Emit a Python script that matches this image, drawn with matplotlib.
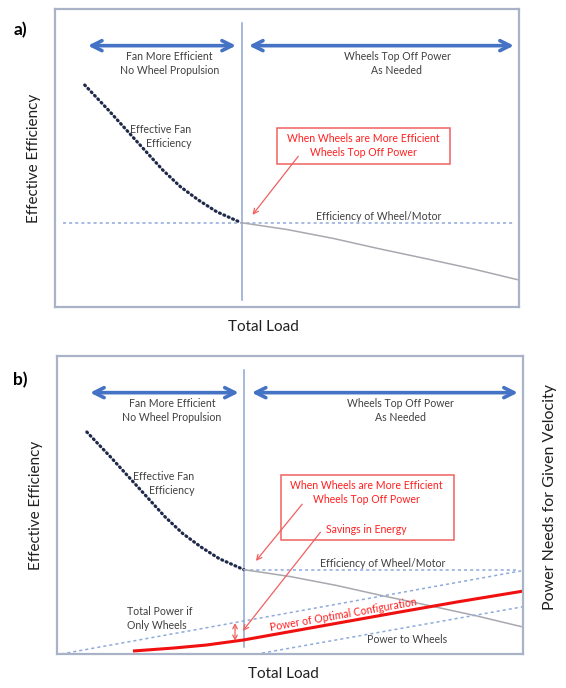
import matplotlib
matplotlib.use("Agg")
from matplotlib import pyplot as plt
from matplotlib.patches import Rectangle

plt.rcParams['font.family'] = ['Lato', 'DejaVu Sans']

# fan efficiency curve (dotted), shared by both panels
fan_x = [6.4, 11.5, 15.4, 19.3, 23.2, 27.0, 30.9, 34.8, 40.1]
fan_y = [74.5, 66.1, 59.4, 52.7, 46.0, 40.4, 35.9, 32.0, 28.3]

# wheel/motor efficiency after the crossover (solid gray)
wheel_x = [40.1, 50, 60, 70, 80, 90, 99.6]
wheel_y = [28.3, 26.0, 23.0, 19.5, 16.2, 12.8, 9.2]

crossover_x = 40.2
motor_eff = 28.3

# panel b power lines
only_wheels_x = [0.9, 99.6]
only_wheels_y = [0.0, 27.9]
to_wheels_x = [44.0, 99.8]
to_wheels_y = [0.3, 15.8]
optimal_x = [16.3, 25, 32, 40, 50, 60, 73.6, 86, 100]
optimal_y = [1.0, 2.0, 3.0, 4.7, 7.5, 10.3, 14.1, 17.5, 21.1]

W, H = 566, 688
fig = plt.figure(figsize=(W / 100, H / 100), dpi=100)

TXT = '#404040'
BLUE = '#4472C4'
LBLUE = '#8FAADC'
RED = '#FF2020'
FS = 7.6


def frame(ax):
    ax.set_xlim(0, 100)
    ax.set_ylim(0, 100)
    ax.set_xticks([])
    ax.set_yticks([])
    for s in ax.spines.values():
        s.set_color('#A9B2C6')
        s.set_linewidth(1.6)


def common(ax, full_dash, xlabel_x):
    frame(ax)
    ax.plot([crossover_x, crossover_x], [2.3, 95.2], color='#8EA4D2', lw=1.1)
    ax.annotate('', xy=(6.5, 87.7), xytext=(39.6, 87.7),
                arrowprops=dict(arrowstyle='<->', color=BLUE, lw=2.6, mutation_scale=18))
    ax.annotate('', xy=(41.2, 87.7), xytext=(99.5, 87.7),
                arrowprops=dict(arrowstyle='<->', color=BLUE, lw=2.6, mutation_scale=18))
    ax.text(24.7, 84.2, 'Fan More Efficient', ha='center', va='center', fontsize=FS, color=TXT)
    ax.text(24.7, 79.5, 'No Wheel Propulsion', ha='center', va='center', fontsize=FS, color=TXT)
    ax.text(73.7, 84.2, 'Wheels Top Off Power', ha='center', va='center', fontsize=FS, color=TXT)
    ax.text(73.7, 79.5, 'As Needed', ha='center', va='center', fontsize=FS, color=TXT)
    ax.plot(fan_x, fan_y, color='#1F2A4A', lw=2.3, linestyle=(0, (0.3, 1.2)),
            dash_capstyle='round')
    ax.text(22.8, 59.7, 'Effective Fan', ha='center', va='center', fontsize=FS, color=TXT)
    ax.text(24.6, 54.9, 'Efficiency', ha='center', va='center', fontsize=FS, color=TXT)
    x0 = 1.7 if full_dash else crossover_x
    ax.plot([x0, 99.0], [motor_eff, motor_eff], color=LBLUE, lw=1.1, linestyle=(0, (2, 2)))
    ax.plot(wheel_x, wheel_y, color='#A8A8B0', lw=1.1)
    ax.text(69.8, 30.3, 'Efficiency of Wheel/Motor', ha='center', va='center',
            fontsize=FS, color=TXT)
    ax.set_xlabel('Total Load', fontsize=11, color='#202020')
    ax.xaxis.set_label_coords(xlabel_x, -0.045)
    ax.set_ylabel('Effective Efficiency', fontsize=11, color='#202020', labelpad=10)


# ---- panel a
axa = fig.add_axes([55 / W, (H - 307) / H, 464 / W, 298 / H])
common(axa, True, (263 - 55) / 464)
axa.add_patch(Rectangle((47.8, 48.0), 37.3, 12.1, fill=False, ec='#F06060', lw=1.1))
axa.text(66.4, 56.4, 'When Wheels are More Efficient', ha='center', va='center',
         fontsize=FS, color=RED)
axa.text(66.4, 51.7, 'Wheels Top Off Power', ha='center', va='center', fontsize=FS, color=RED)
axa.annotate('', xy=(42.2, 30.2), xytext=(52.8, 51.3),
             arrowprops=dict(arrowstyle='->', color='#F06060', lw=0.9, mutation_scale=9))
fig.text(20 / W, 1 - 30 / H, 'a)', fontsize=12.5, fontweight='bold', ha='center', va='center')

# ---- panel b
axb = fig.add_axes([57 / W, (H - 654) / H, 466 / W, 298 / H])
common(axb, False, (283 - 57) / 466)
axb.plot(only_wheels_x, only_wheels_y, color=LBLUE, lw=1.1, linestyle=(0, (2, 2)))
axb.plot(to_wheels_x, to_wheels_y, color=LBLUE, lw=1.1, linestyle=(0, (2, 2)))
axb.plot(optimal_x, optimal_y, color='#F01010', lw=2.2, solid_capstyle='butt')
axb.add_patch(Rectangle((48.1, 38.3), 37.1, 21.8, fill=False, ec='#F06060', lw=1.1))
axb.text(66.3, 56.4, 'When Wheels are More Efficient', ha='center', va='center',
         fontsize=FS, color=RED)
axb.text(66.3, 51.7, 'Wheels Top Off Power', ha='center', va='center', fontsize=FS, color=RED)
axb.text(66.3, 41.9, 'Savings in Energy', ha='center', va='center', fontsize=FS, color=RED)
axb.annotate('', xy=(42.3, 30.5), xytext=(53.0, 51.0),
             arrowprops=dict(arrowstyle='->', color='#F06060', lw=0.9, mutation_scale=9))
axb.annotate('', xy=(39.5, 7.0), xytext=(56.9, 41.6),
             arrowprops=dict(arrowstyle='->', color='#F06060', lw=0.9, mutation_scale=9))
axb.annotate('', xy=(38.2, 10.4), xytext=(38.2, 4.4),
             arrowprops=dict(arrowstyle='<->', color='#F06060', lw=0.9, mutation_scale=8,
                             shrinkA=0, shrinkB=0))
axb.text(15.0, 14.4, 'Total Power if', ha='left', va='center', fontsize=FS, color=TXT)
axb.text(15.0, 9.7, 'Only Wheels', ha='left', va='center', fontsize=FS, color=TXT)
axb.text(61.4, 13.3, 'Power of Optimal Configuration', ha='center', va='center',
         fontsize=FS, color=RED, rotation=10)
axb.text(75.1, 4.7, 'Power to Wheels', ha='center', va='center', fontsize=FS, color=TXT)
fig.text(550 / W, 1 - 497 / H, 'Power Needs for Given Velocity', rotation=90,
         fontsize=11.5, color='#202020', ha='center', va='center')
fig.text(20 / W, 1 - 380 / H, 'b)', fontsize=12.5, fontweight='bold', ha='center', va='center')

fig.savefig('out.png', dpi=100)
